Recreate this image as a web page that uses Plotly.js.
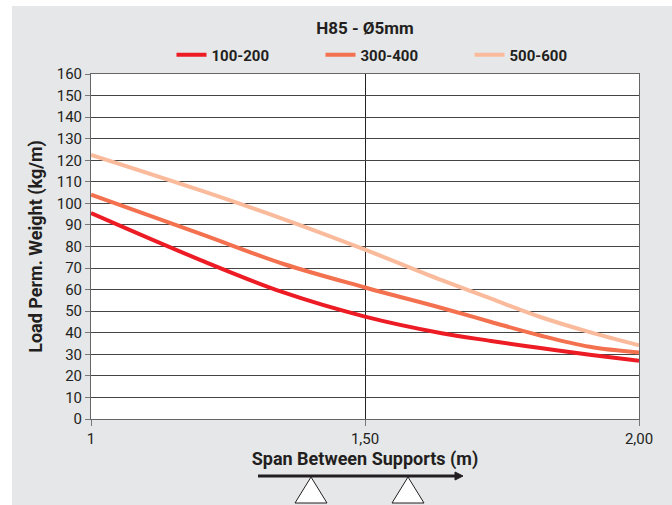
<!DOCTYPE html>
<html><head><meta charset="utf-8">
<script src="https://cdn.plot.ly/plotly-3.0.1.min.js"></script>
<style>html,body{margin:0;padding:0;background:#fff;width:672px;height:505px;overflow:hidden}
#chart{position:absolute;left:12px;top:6px;width:660px;height:499px}</style>
</head><body><div id="chart"></div>
<script>
// Data
const spans = [1.0, 1.2, 1.35, 1.5, 1.64, 1.73, 1.82, 1.91, 2.0];
const load100_200 = [95.5, 73.7, 58.8, 47.5, 39.8, 36.2, 32.9, 29.8, 27];
const load300_400 = [104, 85.8, 72, 61, 51.5, 45, 38.7, 33.5, 30.8];
const load500_600 = [122.5, 106, 92.8, 78.5, 64.4, 55.8, 47.3, 40.3, 34.2];
const seriesNames = ['100-200', '300-400', '500-600'];
const seriesColors = ['#ed1c24', '#f4714f', '#fabb9c'];
const xTickVals = [1, 1.5, 2];
const xTickText = ['1', '1,50', '2,00'];

const FONT = '"Liberation Sans Narrow", Roboto, "DejaVu Sans", sans-serif';
const series = [load100_200, load300_400, load500_600];
const traces = series.map((ys, i) => ({
  x: spans, y: ys, name: seriesNames[i], type: 'scatter', mode: 'lines',
  line: {color: seriesColors[i], width: 4, shape: 'spline', smoothing: 1.0}
}));

// decorative support drawing under the axis title (paper coords)
const W = 548, H = 345;
const px = p => (p - 91) / W;
const py = p => (419 - p) / H;
function tri(cx) {
  return `M${px(cx)},${py(477)} L${px(cx + 16)},${py(503)} L${px(cx - 16)},${py(503)} Z`;
}

const layout = {
  width: 660, height: 499,
  margin: {l: 79, r: 33, t: 68, b: 86},
  paper_bgcolor: '#e6e7e9', plot_bgcolor: '#ffffff',
  font: {family: FONT, size: 15, color: '#231f20'},
  title: {text: '<b>H85 - Ø5mm</b>', font: {family: FONT, size: 17, color: '#231f20'},
          x: 0.5, xref: 'paper', xanchor: 'center', y: 0.956, yref: 'container', yanchor: 'middle'},
  showlegend: true,
  legend: {orientation: 'h', x: 0.5 + 30 / W, xanchor: 'center', y: py(55), yanchor: 'middle',
           font: {family: FONT, size: 15, color: '#231f20', weight: 'bold'},
           bgcolor: 'rgba(0,0,0,0)', entrywidth: 104, entrywidthmode: 'pixels', traceorder: 'normal'},
  xaxis: {range: [1, 2], tickvals: xTickVals, ticktext: xTickText, ticks: 'outside', ticklen: 6,
          tickcolor: '#777', showgrid: true, gridcolor: '#222', gridwidth: 1, zeroline: false,
          showline: true, linecolor: '#666', linewidth: 1, mirror: true,
          tickfont: {family: FONT, size: 15, color: '#231f20'},
          title: {text: '<b>Span Between Supports (m)</b>', font: {family: FONT, size: 18, color: '#231f20'}, standoff: 3}},
  yaxis: {range: [0, 160], dtick: 10, ticks: 'outside', ticklen: 5, tickcolor: '#777',
          showgrid: true, gridcolor: '#444', gridwidth: 1, zeroline: false,
          showline: true, linecolor: '#666', linewidth: 1, mirror: true,
          tickfont: {family: FONT, size: 15, color: '#231f20'},
          title: {text: '<b>Load Perm. Weight (kg/m)</b>', font: {family: FONT, size: 18, color: '#231f20'}, standoff: 9}},
  shapes: [
    {type: 'line', xref: 'paper', yref: 'paper', x0: px(258), x1: px(456), y0: py(476), y1: py(476),
     line: {color: '#231f20', width: 3}},
    {type: 'path', xref: 'paper', yref: 'paper', path: `M${px(455)},${py(472)} L${px(463)},${py(476)} L${px(455)},${py(480)} Z`,
     fillcolor: '#231f20', line: {color: '#231f20', width: 1}},
    {type: 'path', xref: 'paper', yref: 'paper', path: tri(311), fillcolor: '#ffffff', line: {color: '#231f20', width: 1}},
    {type: 'path', xref: 'paper', yref: 'paper', path: tri(408), fillcolor: '#ffffff', line: {color: '#231f20', width: 1}}
  ]
};

Plotly.newPlot('chart', traces, layout, {displayModeBar: false, staticPlot: true});
</script></body></html>
